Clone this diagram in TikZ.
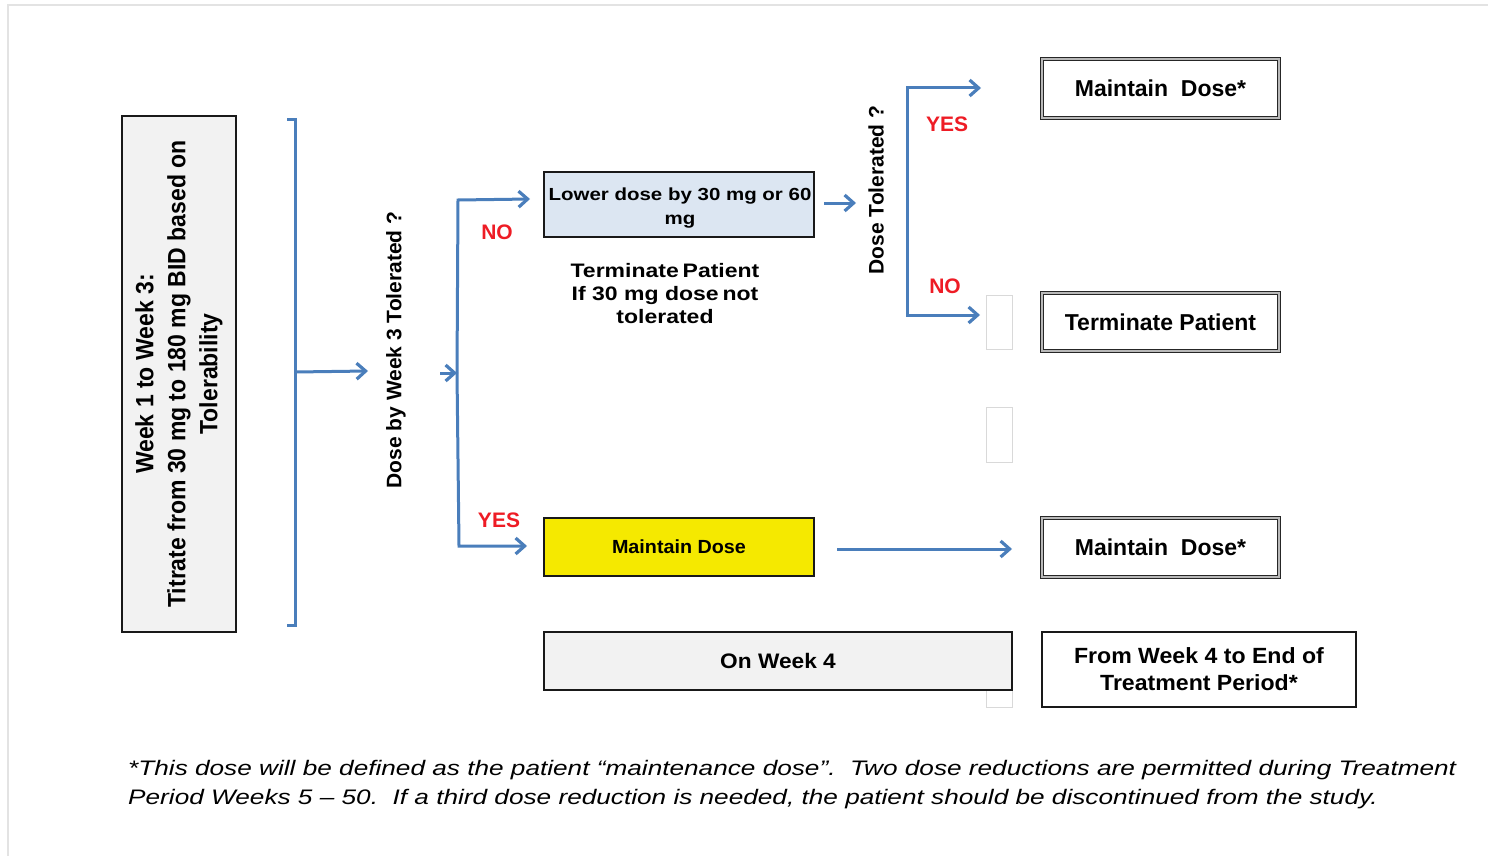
\documentclass[tikz,border=0pt]{standalone}
\usepackage{fontspec}
\usepackage{graphicx}
\setmainfont{Liberation Sans}
\usetikzlibrary{arrows.meta}
\definecolor{cblue}{HTML}{4A7EBB}
\definecolor{cred}{HTML}{EE1C25}
\definecolor{cyel}{HTML}{F5E900}
\definecolor{clblue}{HTML}{DCE6F2}
\definecolor{cgray}{HTML}{F2F2F2}
\newcommand{\hs}[2]{\scalebox{#1}[1]{#2}}
\newcommand{\fsz}[2]{\fontsize{#1}{#2}\selectfont}
\tikzset{
  bline/.style={draw=cblue, line width=3pt},
  barr/.style={bline, -{Straight Barb[length=9pt,width=16pt,line width=3.2pt]}},
  plainbox/.style={draw=black!90, line width=2.4pt, inner sep=0pt},
  dblbox/.style={draw=black!85, line width=1.5pt, double=gray!55, double distance=1.6pt, fill=white, inner sep=0pt},
  faint/.style={draw=gray!30, line width=1pt, inner sep=0pt},
  redlbl/.style={text=cred, font=\fsz{21}{25}\bfseries, inner sep=0pt},
  qtext/.style={rotate=90, font=\fsz{21}{25}\bfseries, inner sep=0pt},
}
\begin{document}
\begin{tikzpicture}[x=1pt,y=-1pt]
\useasboundingbox (0,0) rectangle (1488,856);
% outer frame
\draw[gray!22, line width=2pt] (8,856) -- (8,5) -- (1488,5);

% left box
\node[plainbox, fill=cgray, rotate=90, minimum width=516pt, minimum height=114pt, align=center,
      font=\fsz{25}{32}\bfseries] (wk) at (179,374)
  {\hs{0.92}{Week 1 to Week 3:}\\\hs{0.92}{Titrate from 30 mg to 180 mg BID based on}\\\hs{0.92}{Tolerability}};

% bracket
\coordinate (brt) at (287,120);
\coordinate (brb) at (287,625);
\coordinate (brm) at (295,372);
\coordinate (a1e) at (368,371);
\draw[bline] (brt) -- (295,120) -- (295,625) -- (brb);
\draw[barr] (brm) -- (a1e);

% question 1
\node[qtext] (q1) at (396,350) {Dose by Week 3 Tolerated ?};
\coordinate (s1) at (440,373);
\coordinate (d1) at (457,373);
\draw[barr] (s1) -- (d1);

% decision 1
\coordinate (d1t) at (458,200);
\coordinate (d1b) at (459,546);
\coordinate (noe) at (530,199);
\coordinate (yese) at (527,546);
\draw[barr] (d1) -- (d1t) -- (noe);
\draw[barr] (d1) -- (d1b) -- (yese);
\node[redlbl] (no1) at (497,232) {NO};
\node[redlbl] (yes1) at (499,520) {YES};

% lower dose box
\node[plainbox, fill=clblue, minimum width=270pt, minimum height=65pt] (lower) at (679,204.5) {};
\node[align=center, inner sep=0pt, font=\fsz{17.5}{24}\bfseries] (lowert) at (680,208.5)
  {\hs{1.17}{Lower dose by 30 mg or 60}\\\hs{1.17}{mg}};
\node[align=center, font=\fsz{19.5}{23}\bfseries, inner sep=0pt] (term1) at (665,294)
  {\hs{1.18}{Terminate\,Patient}\\\hs{1.18}{If 30 mg dose\,not}\\\hs{1.18}{tolerated}};

\coordinate (l1s) at (824,203);
\coordinate (l1e) at (856,203);
\draw[barr] (l1s) -- (l1e);

% question 2
\node[qtext] (q2) at (876,190) {Dose Tolerated ?};
\coordinate (d2t) at (907,88);
\coordinate (d2b) at (907,315);
\coordinate (y2e) at (981,88);
\coordinate (n2e) at (980,315);
\draw[barr] (d2b) -- (d2t) -- (y2e);
\draw[barr] (d2t) -- (d2b) -- (n2e);
\node[redlbl] (yes2) at (947,124) {YES};
\node[redlbl] (no2) at (945,286) {NO};

% faint rectangles
\node[faint, minimum width=26pt, minimum height=54pt] (g1) at (999,322) {};
\node[faint, minimum width=26pt, minimum height=55pt] (g2) at (999,434.5) {};
\node[faint, minimum width=26pt, minimum height=30pt] (g3) at (999,692) {};

% right boxes
\node[dblbox, minimum width=237pt, minimum height=59pt, font=\fsz{23}{27}\bfseries] (md1) at (1160.5,88.5) {Maintain\ \ Dose*};
\node[dblbox, minimum width=237pt, minimum height=58pt, font=\fsz{23}{27}\bfseries] (tp) at (1160.5,322) {Terminate Patient};
\node[dblbox, minimum width=237pt, minimum height=59pt, font=\fsz{23}{27}\bfseries] (md2) at (1160.5,547.5) {Maintain\ \ Dose*};
\node[plainbox, fill=white, minimum width=314pt, minimum height=75pt, align=center, font=\fsz{22}{27}\bfseries] (fw) at (1199,669.5)
  {\hs{1.05}{From Week 4 to End of}\\\hs{1.05}{Treatment Period*}};

% yellow & week 4
\node[plainbox, fill=cyel, minimum width=270pt, minimum height=58pt, font=\fsz{19}{23}\bfseries] (yl) at (679,547) {\hs{1.04}{Maintain Dose}};
\node[plainbox, fill=cgray, minimum width=468pt, minimum height=58pt, font=\fsz{21}{25}\bfseries] (ow) at (778,661) {\hs{1.08}{On Week 4}};

\coordinate (yls) at (837,549);
\coordinate (yle) at (1012,549);
\draw[barr] (yls) -- (yle);

% footnote
\node[anchor=west, inner sep=0pt, font=\fsz{21}{25}\itshape] (fn1) at (128,770)
  {\hs{1.247}{*This dose will be defined as the patient “maintenance dose”.\ \ Two dose reductions are permitted during Treatment}};
\node[anchor=west, inner sep=0pt, font=\fsz{21}{25}\itshape] (fn2) at (128,799)
  {\hs{1.247}{Period Weeks 5 – 50.\ \ If a third dose reduction is needed, the patient should be discontinued from the study.}};
\end{tikzpicture}
\end{document}
